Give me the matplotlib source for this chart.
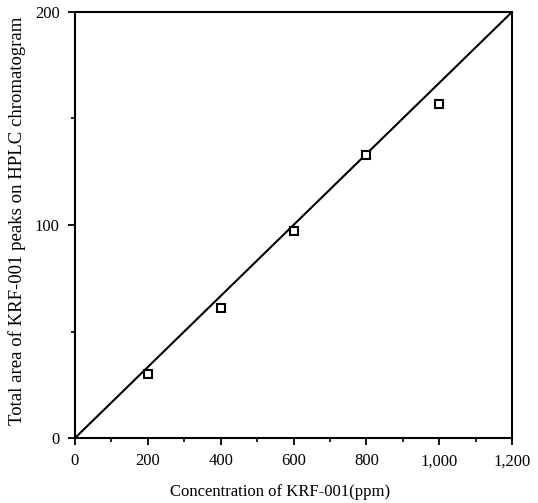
import matplotlib
matplotlib.use("Agg")
from matplotlib import pyplot as plt
from matplotlib.ticker import MultipleLocator, FuncFormatter

# measured points
conc = [200, 400, 600, 800, 1000]
area = [30, 61, 97, 133, 157]
# calibration line
line_x = [0, 1200]
line_y = [0, 200]

plt.rcParams['font.family'] = ['Liberation Serif', 'DejaVu Serif']

fig = plt.figure(figsize=(5.38, 5.03), dpi=100)
ax = fig.add_axes([0.1394, 0.1292, 0.8123, 0.847])

ax.plot(line_x, line_y, color='black', lw=1.5)
ax.plot(conc, area, linestyle='none', marker='s', markersize=6,
        markerfacecolor='white', markeredgecolor='black', markeredgewidth=1.5)

ax.set_xlim(0, 1200)
ax.set_ylim(0, 200)
ax.xaxis.set_major_locator(MultipleLocator(200))
ax.xaxis.set_minor_locator(MultipleLocator(100))
ax.yaxis.set_major_locator(MultipleLocator(100))
ax.yaxis.set_minor_locator(MultipleLocator(50))
ax.xaxis.set_major_formatter(FuncFormatter(lambda v, p: f"{int(v):,}"))

ax.tick_params(which='major', length=5, width=1.3, labelsize=12, pad=6)
ax.tick_params(which='minor', length=3, width=1.2)
for s in ax.spines.values():
    s.set_linewidth(1.5)

ax.set_xlabel("Concentration of KRF-001(ppm)", fontsize=12)
ax.set_ylabel("Total area of KRF-001 peaks on HPLC chromatogram", fontsize=13.5)
# labels sit a little off-centre in the original
ax.xaxis.set_label_coords(0.47, -0.107)
ax.yaxis.set_label_coords(-0.113, 0.51)

fig.savefig("out.png", dpi=100)
